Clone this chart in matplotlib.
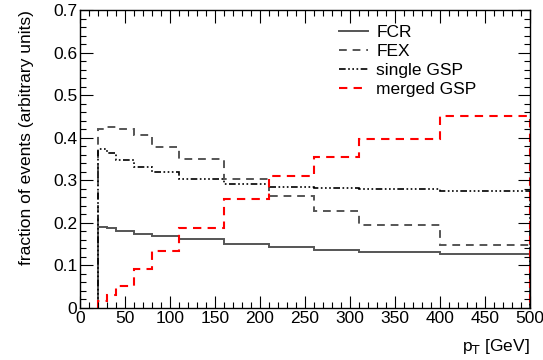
import matplotlib

matplotlib.use("Agg")
import matplotlib.pyplot as plt
from matplotlib.ticker import MultipleLocator, FuncFormatter

plt.rcParams["font.family"] = ["Liberation Sans", "DejaVu Sans"]

# pT bin edges [GeV]
edges = [20, 30, 40, 60, 80, 110, 160, 210, 260, 310, 400, 500]

fcr = [0.190, 0.188, 0.182, 0.174, 0.170, 0.162, 0.151, 0.143, 0.137, 0.132, 0.127]
fex = [0.420, 0.424, 0.420, 0.407, 0.379, 0.350, 0.304, 0.264, 0.228, 0.194, 0.148]
single_gsp = [0.373, 0.365, 0.348, 0.331, 0.319, 0.303, 0.292, 0.285, 0.282, 0.279, 0.276]
merged_gsp = [0.017, 0.030, 0.052, 0.091, 0.135, 0.187, 0.255, 0.309, 0.354, 0.396, 0.452]

fig = plt.figure(figsize=(5.43, 3.6), dpi=100)
ax = fig.add_axes([80 / 543, 1 - 308 / 360, 450 / 543, 298 / 360])

ax.stairs(fcr, edges, baseline=0, color="#555555", lw=1.4, ls="-", label="FCR")
ax.stairs(fex, edges, baseline=0, color="#555555", lw=1.4, ls=(0, (4, 3)), label="FEX")
ax.stairs(single_gsp, edges, baseline=0, color="black", lw=1.2,
          ls=(0, (4, 1.5, 1, 1.5, 1, 1.5, 1, 1.5)), label="single GSP")
ax.stairs(merged_gsp, edges, baseline=0, color="red", lw=1.5, ls=(0, (4, 3)),
          label="merged GSP")

ax.set_xlim(0, 500)
ax.set_ylim(0, 0.7)
ax.xaxis.set_major_locator(MultipleLocator(50))
ax.xaxis.set_minor_locator(MultipleLocator(10))
ax.yaxis.set_major_locator(MultipleLocator(0.1))
ax.yaxis.set_minor_locator(MultipleLocator(0.02))
ax.yaxis.set_major_formatter(
    FuncFormatter(lambda v, p: "0" if abs(v) < 1e-9 else f"{v:.1f}"))
ax.tick_params(which="both", direction="in", top=True, right=True, labelsize=12.5,
               pad=2)
ax.tick_params(which="major", length=9, width=0.8)
ax.tick_params(which="minor", length=4.5, width=0.8)
for s in ax.spines.values():
    s.set_linewidth(1.0)

ax.set_xlabel(r"p$_{\mathrm{T}}$ [GeV]", fontsize=12.5, loc="right", labelpad=8)
ax.set_ylabel("fraction of events (arbitrary units)", fontsize=12.5, loc="top",
              labelpad=14)

ax.legend(loc="upper left", bbox_to_anchor=(0.56, 0.972), frameon=False,
          fontsize=12.5, handlelength=1.7, handletextpad=0.45, labelspacing=0.22,
          borderaxespad=0)

fig.savefig("out.png", dpi=100)
